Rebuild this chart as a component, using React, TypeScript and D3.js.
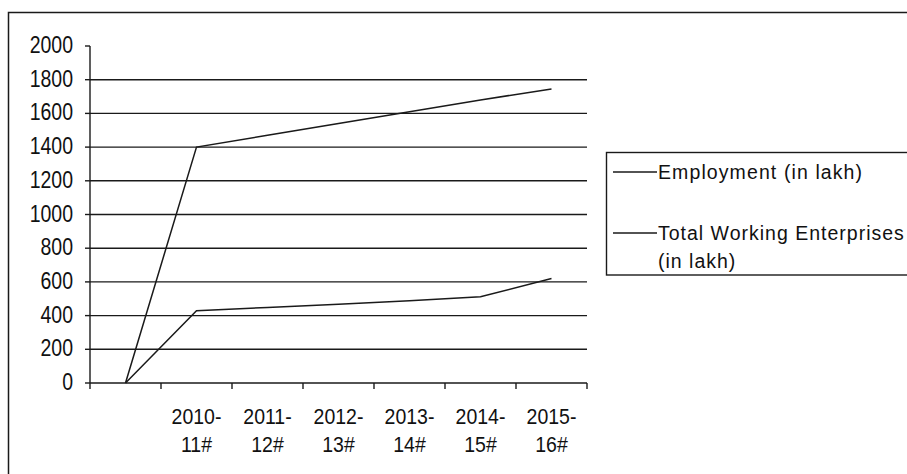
import React from "react";
import * as d3 from "d3";

const categories = ["", "2010-11#", "2011-12#", "2012-13#", "2013-14#", "2014-15#", "2015-16#"];
const employment = [0, 1400, 1470, 1540, 1610, 1680, 1745];
const enterprises = [0, 429, 448, 468, 488, 512, 620];
const yTicks = [0, 200, 400, 600, 800, 1000, 1200, 1400, 1600, 1800, 2000];
const seriesNames = ["Employment (in lakh)", "Total Working Enterprises (in lakh)"];

const W = 907;
const H = 474;
const FONT = "Liberation Sans, Arial, sans-serif";

export default function App() {
  const x = d3.scaleBand<string>().domain(categories.map((c, i) => String(i))).range([90, 587]);
  const y = d3.scaleLinear().domain([0, 2000]).range([383, 46]);
  const cx = (i: number) => (x(String(i)) as number) + x.bandwidth() / 2;
  const line = d3
    .line<number>()
    .x((_, i) => cx(i))
    .y((d) => y(d));
  const stroke = "#1a1a1a";
  const bands = categories.map((c, i) => String(i));

  return (
    <svg
      width={W}
      height={H}
      style={{ position: "absolute", left: 0, top: 0, display: "block", background: "#fff" }}
    >
      {/* outer frame (cropped on right and bottom) */}
      <rect x={8.5} y={12.5} width={1000} height={1000} fill="#fff" stroke={stroke} strokeWidth={1.5} />

      {/* grid lines */}
      {yTicks
        .filter((t) => t > 0 && t < 2000)
        .map((t) => (
          <line key={"g" + t} x1={90} x2={587} y1={y(t)} y2={y(t)} stroke={stroke} strokeWidth={1.4} />
        ))}

      {/* y axis */}
      <line x1={90} x2={90} y1={y(2000)} y2={y(0)} stroke={stroke} strokeWidth={1.4} />
      {yTicks.map((t) => (
        <g key={"yt" + t}>
          <line x1={85} x2={90} y1={y(t)} y2={y(t)} stroke={stroke} strokeWidth={1.4} />
          <text
            transform={`translate(73,${y(t) + 7}) scale(1,1.18)`}
            textAnchor="end"
            fontFamily={FONT}
            fontSize={19.5}
            fill="#111"
          >
            {t}
          </text>
        </g>
      ))}

      {/* x axis */}
      <line x1={90} x2={587} y1={y(0)} y2={y(0)} stroke={stroke} strokeWidth={1.4} />
      {bands.map((b) => (
        <line
          key={"xt" + b}
          x1={(x(b) as number) + x.bandwidth()}
          x2={(x(b) as number) + x.bandwidth()}
          y1={y(0)}
          y2={y(0) + 6}
          stroke={stroke}
          strokeWidth={1.4}
        />
      ))}
      <line x1={90} x2={90} y1={y(0)} y2={y(0) + 6} stroke={stroke} strokeWidth={1.4} />
      {categories.map((c, i) => {
        if (!c) return null;
        const parts = [c.slice(0, 5), c.slice(5)];
        return (
          <g key={"xl" + i}>
            {parts.map((p, j) => (
              <text
                key={j}
                transform={`translate(${cx(i)},${424 + j * 27.5}) scale(1,1.15)`}
                textAnchor="middle"
                fontFamily={FONT}
                fontSize={19.5}
                fill="#111"
              >
                {p}
              </text>
            ))}
          </g>
        );
      })}

      {/* series */}
      <path d={line(employment) || ""} fill="none" stroke={stroke} strokeWidth={1.5} />
      <path d={line(enterprises) || ""} fill="none" stroke={stroke} strokeWidth={1.5} />

      {/* legend */}
      <rect x={606.5} y={152.5} width={400} height={122.5} fill="#fff" stroke={stroke} strokeWidth={1.4} />
      <line x1={613} x2={657} y1={172} y2={172} stroke={stroke} strokeWidth={1.4} />
      <text x={658} y={178.5} fontFamily={FONT} fontSize={19.5} fill="#111" letterSpacing={1.1}>
        {seriesNames[0]}
      </text>
      <line x1={613} x2={657} y1={233} y2={233} stroke={stroke} strokeWidth={1.4} />
      <text x={658} y={240} fontFamily={FONT} fontSize={19.5} fill="#111" letterSpacing={1.0}>
        Total Working Enterprises
      </text>
      <text x={658} y={268} fontFamily={FONT} fontSize={19.5} fill="#111" letterSpacing={1.0}>
        (in lakh)
      </text>
    </svg>
  );
}
